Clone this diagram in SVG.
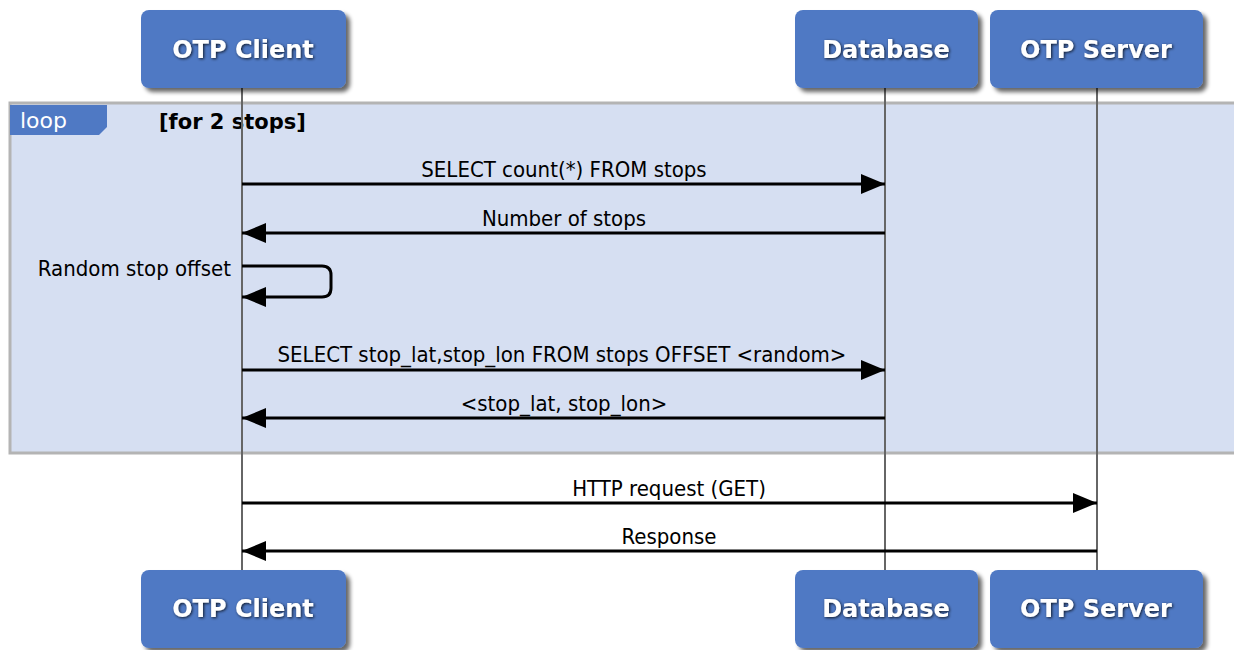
<svg xmlns="http://www.w3.org/2000/svg" width="1234" height="650" viewBox="0 0 1234 650">
<style>
.box{fill:#4f79c4;filter:url(#sh)}
.bt{font-family:"DejaVu Sans",sans-serif;font-size:24px;font-weight:bold;fill:#fff;text-anchor:middle;filter:url(#ts)}
.life{stroke:#666;stroke-width:2}
.msg{stroke:#000;stroke-width:3;fill:none}
.ml{font-family:"DejaVu Sans Condensed","DejaVu Sans",sans-serif;font-stretch:condensed;font-size:22px;fill:#000;text-anchor:middle}
</style>
<defs>
<filter id="sh" x="-10%" y="-10%" width="130%" height="140%"><feGaussianBlur in="SourceAlpha" stdDeviation="2"/><feOffset dx="4" dy="4"/><feComponentTransfer><feFuncA type="linear" slope="0.6"/></feComponentTransfer><feMerge><feMergeNode/><feMergeNode in="SourceGraphic"/></feMerge></filter>
<filter id="ts" x="-10%" y="-20%" width="120%" height="150%"><feGaussianBlur in="SourceAlpha" stdDeviation="1.5"/><feOffset dx="1" dy="1"/><feComponentTransfer><feFuncA type="linear" slope="0.8"/></feComponentTransfer><feMerge><feMergeNode/><feMergeNode in="SourceGraphic"/></feMerge></filter>
<marker id="a" viewBox="0 0 24 20" refX="24" refY="10" markerWidth="24" markerHeight="20" markerUnits="userSpaceOnUse" orient="auto"><path d="M0,0 L24,10 L0,20 z" fill="#000"/></marker>
</defs>
<rect width="1234" height="650" fill="#fff"/>
<g id="loop">
<rect x="10" y="103" width="1230" height="350" fill="#d6dff2" stroke="#b4b4b4" stroke-width="3"/>
<path d="M10,105 H107 V127 L99,135 H10 Z" fill="#4f79c4"/>
<text x="20" y="128" font-family="DejaVu Sans,sans-serif" font-size="22" fill="#fff">loop</text>
<text x="159" y="129" font-family="DejaVu Sans,sans-serif" font-size="21" font-weight="bold" fill="#000">[for 2 stops]</text>
</g>
<g id="lifelines">
<line class="life" x1="242" y1="88" x2="242" y2="570"/>
<line class="life" x1="885" y1="88" x2="885" y2="570"/>
<line class="life" x1="1097" y1="88" x2="1097" y2="570"/>
</g>
<g id="client-top"><rect class="box" x="141" y="10" width="205" height="78" rx="8"/><text class="bt" x="243" y="58">OTP Client</text></g>
<g id="db-top"><rect class="box" x="795" y="10" width="183" height="78" rx="8"/><text class="bt" x="886" y="58">Database</text></g>
<g id="server-top"><rect class="box" x="990" y="10" width="213" height="78" rx="8"/><text class="bt" x="1096" y="58">OTP Server</text></g>
<g id="client-bot"><rect class="box" x="141" y="570" width="205" height="78" rx="8"/><text class="bt" x="243" y="617">OTP Client</text></g>
<g id="db-bot"><rect class="box" x="795" y="570" width="183" height="78" rx="8"/><text class="bt" x="886" y="617">Database</text></g>
<g id="server-bot"><rect class="box" x="990" y="570" width="213" height="78" rx="8"/><text class="bt" x="1096" y="617">OTP Server</text></g>
<g id="connectors">
<line class="msg" x1="242" y1="184" x2="885" y2="184" marker-end="url(#a)"/>
<text class="ml" x="564" y="177">SELECT count(*) FROM stops</text>
<line class="msg" x1="885" y1="233" x2="242" y2="233" marker-end="url(#a)"/>
<text class="ml" x="564" y="226">Number of stops</text>
<path class="msg" d="M242,266 H322 Q331,266 331,275 V288 Q331,297 322,297 H242" marker-end="url(#a)"/>
<text class="ml" x="231" y="276" style="text-anchor:end">Random stop offset</text>
<line class="msg" x1="242" y1="370" x2="885" y2="370" marker-end="url(#a)"/>
<text class="ml" x="562" y="362">SELECT stop_lat,stop_lon FROM stops OFFSET &lt;random&gt;</text>
<line class="msg" x1="885" y1="418" x2="242" y2="418" marker-end="url(#a)"/>
<text class="ml" x="564" y="411">&lt;stop_lat, stop_lon&gt;</text>
<line class="msg" x1="242" y1="503" x2="1097" y2="503" marker-end="url(#a)"/>
<text class="ml" x="669" y="496">HTTP request (GET)</text>
<line class="msg" x1="1097" y1="551" x2="242" y2="551" marker-end="url(#a)"/>
<text class="ml" x="669" y="544">Response</text>
</g>
</svg>
